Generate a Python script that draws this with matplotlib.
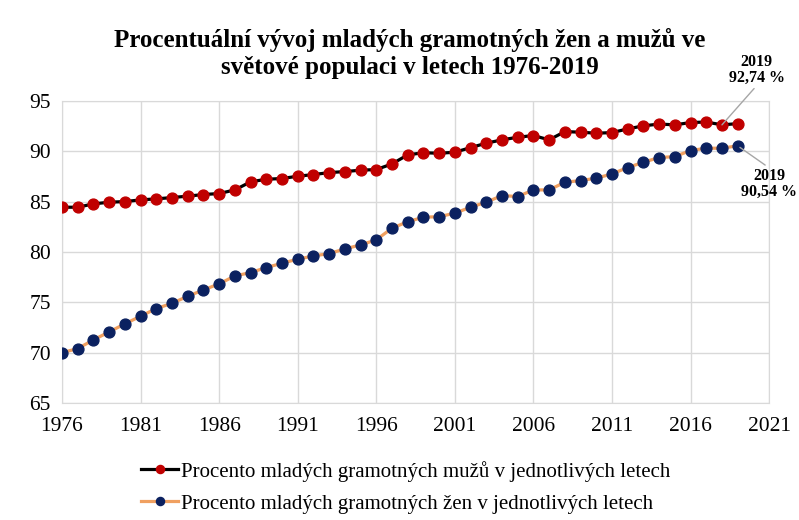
import numpy as np
import matplotlib
matplotlib.use("Agg")
import matplotlib.pyplot as plt

plt.rcParams['font.family'] = ['Liberation Serif', 'DejaVu Serif']

# data
years = list(range(1976, 2020))
muzi = [84.44, 84.44, 84.77, 84.94, 85.0, 85.17, 85.27, 85.4, 85.54, 85.7,
        85.8, 86.16, 86.96, 87.22, 87.29, 87.52, 87.68, 87.88, 87.98, 88.12,
        88.18, 88.74, 89.64, 89.85, 89.8, 89.9, 90.36, 90.8, 91.13, 91.39,
        91.56, 91.13, 91.95, 91.89, 91.79, 91.85, 92.22, 92.52, 92.7, 92.62,
        92.85, 92.9, 92.62, 92.74]
zeny = [70.0, 70.4, 71.27, 72.06, 72.86, 73.62, 74.38, 74.9, 75.6, 76.23,
        76.83, 77.62, 77.95, 78.45, 78.88, 79.28, 79.6, 79.84, 80.3, 80.7,
        81.2, 82.36, 83.0, 83.45, 83.5, 83.85, 84.44, 84.94, 85.6, 85.5,
        86.16, 86.16, 86.92, 87.09, 87.32, 87.75, 88.38, 88.91, 89.37, 89.47,
        90.07, 90.3, 90.3, 90.54]
x_ticks = list(range(1976, 2022, 5))
y_ticks = list(range(65, 96, 5))

title = "Procentuální vývoj mladých gramotných žen a mužů ve\nsvětové populaci v letech 1976-2019"
label_m = "Procento mladých gramotných mužů v jednotlivých letech"
label_z = "Procento mladých gramotných žen v jednotlivých letech"

fig = plt.figure(figsize=(7.99, 5.2), dpi=100)
ax = fig.add_axes([0.0776, 0.225, 0.885, 0.581])

ax.plot(years, muzi, color='black', lw=2.3, marker='o', ms=7.8,
        mfc='#C00000', mec='#C00000', label=label_m, zorder=3)
ax.plot(years, zeny, color='#F0A060', lw=2.3, marker='o', ms=7.8,
        mfc='#0B2160', mec='#0B2160', label=label_z, zorder=3)

ax.set_xlim(1976, 2021)
ax.set_ylim(65, 95)
ax.set_xticks(x_ticks)
ax.set_yticks(y_ticks)
ax.grid(True, color='#D9D9D9', lw=1)
ax.set_axisbelow(True)
for s in ax.spines.values():
    s.set_color('#D9D9D9')
ax.tick_params(length=0, labelsize=15.5, pad=10)
ax.tick_params(axis='y', pad=8)
ax.set_xticklabels([str(t) for t in x_ticks])

fig.suptitle(title, fontsize=18, fontweight='bold', x=0.513, y=0.947, linespacing=1.25)

ax.annotate("2019\n92,74 %", xy=(years[-2], muzi[-2]), xytext=(2020.2, 96.5),
            fontsize=11.5, fontweight='bold', ha='center', va='bottom',
            annotation_clip=False, linespacing=1.0,
            arrowprops=dict(arrowstyle='-', color='#A6A6A6', lw=1, shrinkA=0, shrinkB=0,
                            relpos=(0.5, 0.0)))
ax.annotate("2019\n90,54 %", xy=(years[-1], zeny[-1]), xytext=(2021.0, 88.35),
            fontsize=11.5, fontweight='bold', ha='center', va='top',
            annotation_clip=False, linespacing=1.0,
            arrowprops=dict(arrowstyle='-', color='#A6A6A6', lw=1, shrinkA=0, shrinkB=2,
                            relpos=(0.5, 1.0)))

fig.legend(loc='lower left', bbox_to_anchor=(0.153, -0.024), ncol=1, frameon=False,
           fontsize=15, handlelength=1.8, handletextpad=0.1, labelspacing=0.6,
           markerscale=0.75)

fig.savefig("out.png", dpi=100)
